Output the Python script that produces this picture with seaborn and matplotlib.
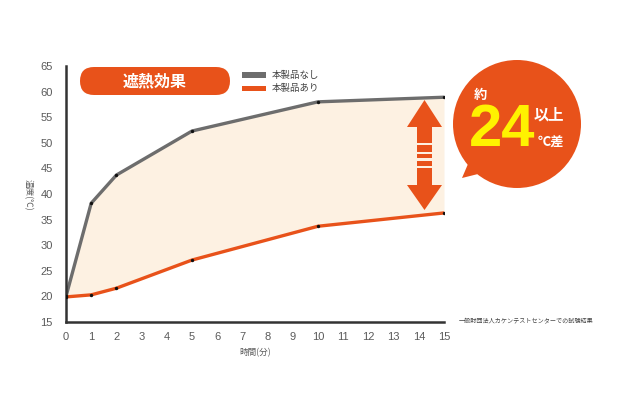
import matplotlib
matplotlib.use("Agg")
import matplotlib.pyplot as plt
import seaborn as sns
import pandas as pd
import numpy as np
from matplotlib.patches import FancyBboxPatch, Circle, Polygon, Rectangle

# ---- data ----
minutes = [0, 1, 2, 5, 10, 15]
without_product = [20.0, 38.2, 43.7, 52.3, 58.0, 58.9]   # 本製品なし
with_product = [19.9, 20.3, 21.6, 27.1, 33.7, 36.3]      # 本製品あり
x_ticks = list(range(0, 16))
y_ticks = list(range(15, 70, 5))
series_names = ["本製品なし", "本製品あり"]

GRAY = "#6d6d6d"
ORANGE = "#e8521a"
FILL = "#fdf1e2"
TEXT = "#5a5a5a"

sns.set_style("white")
plt.rcParams["font.family"] = ["Noto Sans CJK JP", "DejaVu Sans"]

df = pd.DataFrame({
    "minutes": minutes * 2,
    "temp": without_product + with_product,
    "series": [series_names[0]] * len(minutes) + [series_names[1]] * len(minutes),
})

fig = plt.figure(figsize=(6.4, 4.04), dpi=100)
ax = fig.add_axes([66 / 640, 82 / 404, 378 / 640, 256 / 404])

ax.fill_between(minutes, with_product, without_product, color=FILL, zorder=1, linewidth=0)
sns.lineplot(data=df, x="minutes", y="temp", hue="series",
             palette={series_names[0]: GRAY, series_names[1]: ORANGE},
             linewidth=2.4, legend=False, ax=ax, zorder=2)
sns.scatterplot(data=df, x="minutes", y="temp", color="#111111", s=6,
                linewidth=0, legend=False, ax=ax, zorder=3)

ax.set_xlim(0, 15)
ax.set_ylim(15, 65)
ax.set_xticks(x_ticks)
ax.set_yticks(y_ticks)
ax.tick_params(axis="both", length=0, labelsize=8, labelcolor=TEXT)
ax.tick_params(axis="x", pad=7.5)
ax.tick_params(axis="y", pad=9.5)
for lab in ax.get_xticklabels() + ax.get_yticklabels():
    lab.set_fontfamily(["Liberation Sans", "DejaVu Sans"])
ax.set_xlabel("時間(分)", fontsize=6.2, color=TEXT, labelpad=4)
ax.set_ylabel("")
for s in ["top", "right"]:
    ax.spines[s].set_visible(False)
for s in ["left", "bottom"]:
    ax.spines[s].set_color("#333333")
    ax.spines[s].set_linewidth(1.8)

# ---- overlay in pixel coordinates ----
ov = fig.add_axes([0, 0, 1, 1], facecolor="none")
ov.set_xlim(0, 640)
ov.set_ylim(404, 0)
ov.axis("off")

ov.text(28, 195, "温度(℃)", rotation=-90, ha="center", va="center", fontsize=6.2, color=TEXT)

# title pill
ov.add_patch(FancyBboxPatch((80, 67), 150, 28, boxstyle="round,pad=0,rounding_size=14",
                            facecolor=ORANGE, edgecolor="none"))
ov.text(155, 81.5, "遮熱効果", ha="center", va="center", fontsize=11.5, color="white",
        fontweight="bold")

# legend
for yc, col, name in [(75, GRAY, series_names[0]), (88.3, ORANGE, series_names[1])]:
    ov.add_patch(Rectangle((242, yc - 2.8), 24, 5.6, facecolor=col, edgecolor="none"))
    ov.text(272, yc, name, ha="left", va="center", fontsize=6.8, color="#444444")

# double arrow
cx = 424.5
arrow = Polygon([(cx, 100), (cx + 17.5, 127), (cx + 7.5, 127), (cx + 7.5, 185),
                 (cx + 17.5, 185), (cx, 210), (cx - 17.5, 185), (cx - 7.5, 185),
                 (cx - 7.5, 127), (cx - 17.5, 127)], closed=True,
                facecolor=ORANGE, edgecolor="none")
ov.add_patch(arrow)
for yy in [143.7, 152.7, 159.5, 167]:
    ov.add_patch(Rectangle((cx - 8, yy - 1.2), 16, 2.4, facecolor=FILL, edgecolor="none"))

# speech bubble
ov.add_patch(Circle((517, 124), 64, facecolor=ORANGE, edgecolor="none"))
ov.add_patch(Polygon([(462, 178), (474, 150), (494, 170)], closed=True,
                     facecolor=ORANGE, edgecolor="none"))
ov.text(480, 95, "約", ha="center", va="center", fontsize=9.5, color="white", fontweight="bold")
ov.text(502, 130, "24", ha="center", va="center", fontsize=43, color="#fff200",
        fontweight="bold", family=["Liberation Sans", "DejaVu Sans"])
ov.text(549, 115, "以上", ha="center", va="center", fontsize=11, color="white", fontweight="bold")
ov.text(551, 143, "℃差", ha="center", va="center", fontsize=9.5, color="white", fontweight="bold")

# footnote
ov.text(526, 320, "一般財団法人カケンテストセンターでの試験結果", ha="center", va="center",
        fontsize=4.4, color="#444444")

fig.savefig("out.png", dpi=100)
